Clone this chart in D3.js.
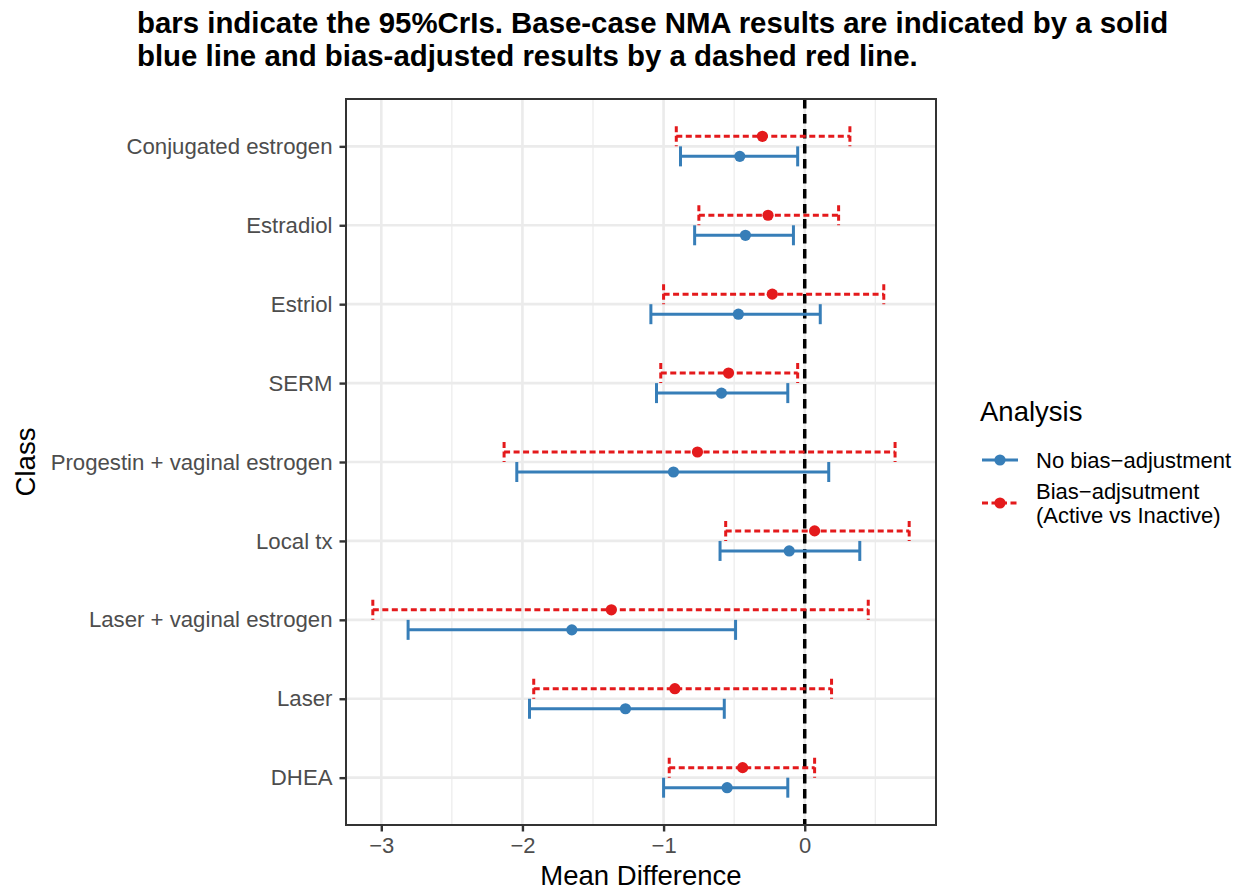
<!DOCTYPE html>
<html><head><meta charset="utf-8">
<script src="https://cdn.jsdelivr.net/npm/d3@7"></script>
<style>body{margin:0;background:#fff;} svg{display:block;font-family:"Liberation Sans",Arial,sans-serif;}</style>
</head><body>
<svg id="chart" width="1247" height="895"></svg>
<script>
const titleLines = ["bars indicate the 95%CrIs. Base-case NMA results are indicated by a solid",
                    "blue line and bias-adjusted results by a dashed red line."];
const categories = ["Conjugated estrogen","Estradiol","Estriol","SERM","Progestin + vaginal estrogen",
                    "Local tx","Laser + vaginal estrogen","Laser","DHEA"];
const seriesNames = ["No bias\u2212adjustment","Bias\u2212adjsutment (Active vs Inactive)"];
// No bias-adjustment (blue)
const noBiasMean  = [-0.46,-0.42,-0.47,-0.59,-0.93,-0.11,-1.65,-1.27,-0.55];
const noBiasLower = [-0.88,-0.78,-1.09,-1.05,-2.04,-0.60,-2.81,-1.95,-1.00];
const noBiasUpper = [-0.05,-0.08, 0.11,-0.12, 0.17, 0.39,-0.49,-0.57,-0.12];
// Bias-adjusted (red)
const biasMean  = [-0.30,-0.26,-0.23,-0.54,-0.76, 0.07,-1.37,-0.92,-0.44];
const biasLower = [-0.91,-0.75,-1.00,-1.02,-2.13,-0.56,-3.06,-1.92,-0.96];
const biasUpper = [ 0.32, 0.24, 0.56,-0.05, 0.64, 0.74, 0.45, 0.19, 0.07];
const xTicks = [-3,-2,-1,0];
const xMinor = [-2.5,-1.5,-0.5,0.5];
const colors = ["#377EB8","#E41A1C"];

const svg = d3.select("#chart");
const P = {left:346, top:99, right:936, bottom:825};

// title
svg.append("g").selectAll("text").data(titleLines).join("text")
  .attr("x",137).attr("y",(d,i)=>33+i*33)
  .attr("font-size",29.4).attr("font-weight","bold").attr("fill","#000").text(d=>d);

const allVals = noBiasLower.concat(noBiasUpper, biasLower, biasUpper);
const ext = d3.extent(allVals); const pad=(ext[1]-ext[0])*0.05;
const x = d3.scaleLinear().domain([ext[0]-pad, ext[1]+pad]).range([P.left,P.right]);
const y = d3.scalePoint().domain(categories).range([P.top,P.bottom]).padding(0.6);
const dodge = y.step()*0.127;

// panel
const g = svg.append("g");
g.append("rect").attr("x",P.left).attr("y",P.top).attr("width",P.right-P.left).attr("height",P.bottom-P.top).attr("fill","#fff");
g.selectAll(".minor").data(xMinor).join("line")
  .attr("x1",d=>x(d)).attr("x2",d=>x(d)).attr("y1",P.top).attr("y2",P.bottom)
  .attr("stroke","#ebebeb").attr("stroke-width",1.2);
g.selectAll(".majx").data(xTicks).join("line")
  .attr("x1",d=>x(d)).attr("x2",d=>x(d)).attr("y1",P.top).attr("y2",P.bottom)
  .attr("stroke","#ebebeb").attr("stroke-width",2.6);
g.selectAll(".majy").data(categories).join("line")
  .attr("y1",d=>y(d)).attr("y2",d=>y(d)).attr("x1",P.left).attr("x2",P.right)
  .attr("stroke","#ebebeb").attr("stroke-width",2.6);

// zero line
g.append("line").attr("x1",x(0)).attr("x2",x(0)).attr("y1",P.top).attr("y2",P.bottom)
  .attr("stroke","#000").attr("stroke-width",3.5).attr("stroke-dasharray","9.5,5.5");

function drawSeries(means, lows, ups, color, off, dash){
  const s = g.append("g");
  const cap = 10;
  categories.forEach((c,i)=>{
    const yy = y(c)+off;
    const segs = [[x(lows[i]),yy-cap,x(lows[i]),yy+cap],[x(lows[i]),yy,x(ups[i]),yy],[x(ups[i]),yy-cap,x(ups[i]),yy+cap]];
    segs.forEach(sg=>{
      s.append("line").attr("x1",sg[0]).attr("y1",sg[1]).attr("x2",sg[2]).attr("y2",sg[3])
        .attr("stroke",color).attr("stroke-width",3).attr("stroke-dasharray",dash);
    });
    s.append("circle").attr("cx",x(means[i])).attr("cy",yy).attr("r",5.6).attr("fill",color);
  });
}
drawSeries(noBiasMean,noBiasLower,noBiasUpper,colors[0],dodge,null);
drawSeries(biasMean,biasLower,biasUpper,colors[1],-dodge,"6,3.5");

g.append("rect").attr("x",P.left).attr("y",P.top).attr("width",P.right-P.left).attr("height",P.bottom-P.top)
  .attr("fill","none").attr("stroke","#333").attr("stroke-width",2);

// axes
const xAxis = svg.append("g").attr("transform",`translate(0,${P.bottom})`)
  .call(d3.axisBottom(x).tickValues(xTicks).tickSize(6.5).tickSizeOuter(0).tickPadding(6).tickFormat(d3.format("d")));
xAxis.select(".domain").remove();
xAxis.selectAll("line").attr("stroke","#333").attr("stroke-width",2.4);
xAxis.selectAll("text").attr("font-size",22).attr("fill","#4d4d4d").attr("font-family","Liberation Sans, Arial, sans-serif");

const yAxis = svg.append("g").attr("transform",`translate(${P.left},0)`)
  .call(d3.axisLeft(y).tickSize(6.5).tickSizeOuter(0).tickPadding(7));
yAxis.select(".domain").remove();
yAxis.selectAll("line").attr("stroke","#333").attr("stroke-width",2.4);
yAxis.selectAll("text").attr("font-size",22.2).attr("fill","#4d4d4d").attr("font-family","Liberation Sans, Arial, sans-serif");

svg.append("text").attr("x",(P.left+P.right)/2).attr("y",885).attr("text-anchor","middle")
  .attr("font-size",27.5).attr("fill","#000").text("Mean Difference");
svg.append("text").attr("transform",`translate(35,${(P.top+P.bottom)/2}) rotate(-90)`).attr("text-anchor","middle")
  .attr("font-size",27.5).attr("fill","#000").text("Class");

// legend
const lg = svg.append("g");
lg.append("text").attr("x",980).attr("y",421).attr("font-size",27.5).attr("fill","#000").text("Analysis");
const keyY = [460,503];
const keyDash = [null,"6,3.5"];
keyY.forEach((ky,i)=>{
  lg.append("line").attr("x1",982).attr("x2",1018).attr("y1",ky).attr("y2",ky)
    .attr("stroke",colors[i]).attr("stroke-width",3).attr("stroke-dasharray",keyDash[i]);
  lg.append("circle").attr("cx",1000).attr("cy",ky).attr("r",5.6).attr("fill",colors[i]);
});
lg.append("text").attr("x",1036).attr("y",468).attr("font-size",22).attr("fill","#000").text(seriesNames[0]);
const t2 = lg.append("text").attr("x",1036).attr("y",499).attr("font-size",22).attr("fill","#000");
t2.append("tspan").attr("x",1036).text("Bias\u2212adjsutment");
t2.append("tspan").attr("x",1036).attr("dy",24).text("(Active vs Inactive)");
</script>
</body></html>
